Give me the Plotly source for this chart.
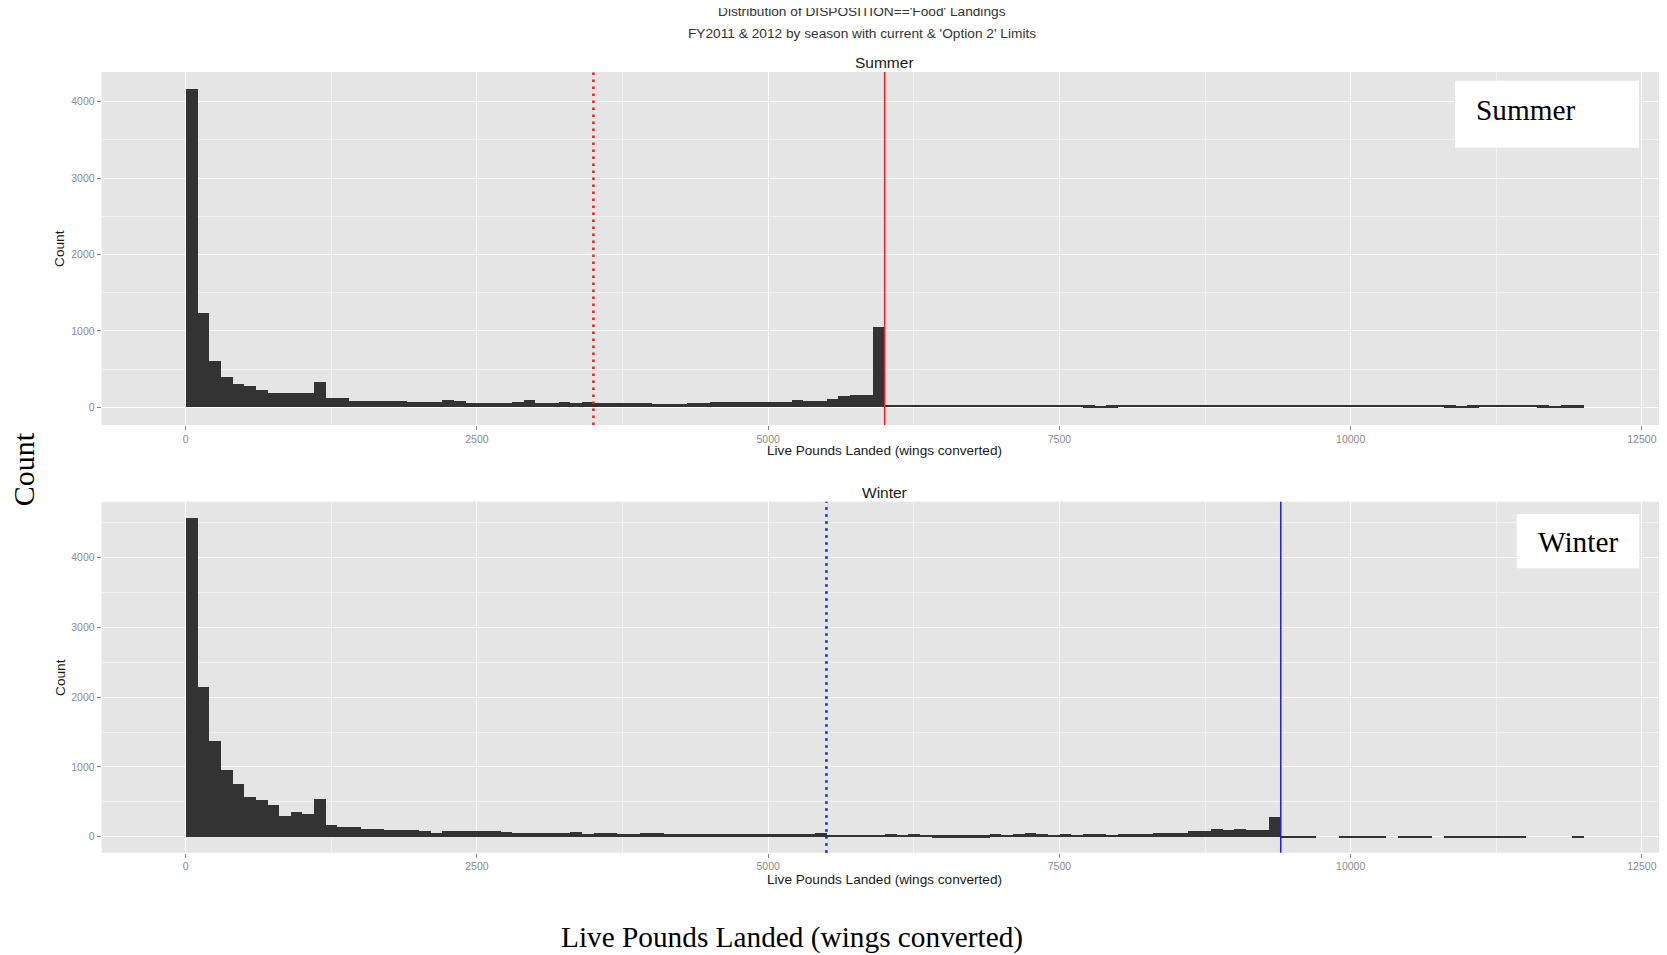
import plotly.graph_objects as go

# page is 1667x955; the browser puts the figure 8px in from the top-left corner
PAGE_W, PAGE_H = 1667, 955
OFF = 8
W, H = PAGE_W - OFF, PAGE_H - OFF

# ---------------- data ----------------
bin_width = 100  # lbs per histogram bin, bins start at 0

summer_counts = [
    4160, 1230, 600, 395, 300, 280, 230, 185, 185, 185,
    185, 335, 120, 118, 85, 85, 84, 82, 83, 68,
    66, 66, 90, 78, 60, 52, 52, 62, 66, 92,
    60, 52, 72, 55, 70, 52, 52, 52, 52, 50,
    42, 42, 43, 50, 62, 64, 65, 64, 65, 66,
    66, 70, 95, 78, 80, 105, 148, 162, 165, 1050,
    30, 28, 29, 28, 28, 27, 28, 29, 28, 28,
    28, 27, 28, 28, 29, 28, 28, 26, 6, 24,
    28, 28, 27, 28, 28, 28, 29, 28, 27, 28,
    28, 28, 28, 27, 28, 28, 28, 28, 28, 27,
    28, 28, 28, 28, 27, 28, 28, 28, 26, 6,
    26, 28, 28, 28, 28, 27, 26, 6, 26, 26,
]

winter_counts = [
    4576, 2150, 1375, 965, 765, 573, 526, 454, 297, 359,
    325, 550, 168, 143, 140, 120, 118, 97, 97, 105,
    86, 60, 80, 82, 80, 81, 80, 78, 58, 57,
    57, 57, 58, 67, 50, 57, 57, 48, 48, 62,
    62, 48, 45, 42, 40, 40, 38, 40, 38, 40,
    38, 50, 50, 40, 55, 35, 32, 30, 30, 32,
    50, 30, 50, 30, 28, 28, 26, 28, 26, 50,
    35, 50, 52, 48, 35, 50, 35, 38, 48, 36,
    50, 38, 40, 62, 60, 62, 80, 86, 120, 96,
    110, 96, 96, 290, 18, 18, 18, 0, 0, 18,
    18, 18, 18, 0, 18, 18, 18, 0, 18, 18,
    18, 18, 18, 18, 18, 0, 0, 0, 0, 18,
]

summer_limits = {"option2": 3500, "current": 6000}
winter_limits = {"option2": 5500, "current": 9400}

x_ticks = [0, 2500, 5000, 7500, 10000, 12500]
x_tick_labels = ["0", "2500", "5000", "7500", "10000", "12500"]
x_minor = [1250, 3750, 6250, 8750, 11250]
y_ticks = [0, 1000, 2000, 3000, 4000]
y_tick_labels = ["0", "1000", "2000", "3000", "4000"]
y_minor_top = [500, 1500, 2500, 3500]
y_minor_bottom = [500, 1500, 2500, 3500, 4500]

title_line1 = "Distribution of DISPOSITION=='Food' Landings"
title_line2 = "FY2011 & 2012 by season with current & 'Option 2' Limits"
x_title = "Live Pounds Landed (wings converted)"
y_title = "Count"
panel_names = ["Summer", "Winter"]

bin_centers = [i * bin_width + bin_width / 2 for i in range(len(summer_counts))]

# ---------------- helpers (page pixels -> paper fractions) ----------------
def fx(px):
    return (px - OFF) / W

def fy(py):
    return 1 - (py - OFF) / H

SANS = "Liberation Sans, Arial, Helvetica, sans-serif"
SERIF = "Liberation Serif, Times New Roman, serif"
BAR = "#333333"
BG = "#E5E5E5"
TICKC = "#8c8c8c"

fig = go.Figure()
fig.add_trace(go.Bar(x=bin_centers, y=summer_counts, width=bin_width,
                     marker=dict(color=BAR, line=dict(width=0)),
                     xaxis="x", yaxis="y", hoverinfo="x+y"))
fig.add_trace(go.Bar(x=bin_centers, y=winter_counts, width=bin_width,
                     marker=dict(color=BAR, line=dict(width=0)),
                     xaxis="x2", yaxis="y2", hoverinfo="x+y"))

x_common = dict(
    range=[-721, 12690], tickmode="array", tickvals=x_ticks, ticktext=x_tick_labels,
    ticks="outside", ticklen=4, tickwidth=1, tickcolor=TICKC,
    tickfont=dict(family=SANS, size=10.5, color=TICKC),
    showgrid=True, gridcolor="white", gridwidth=1.3,
    minor=dict(tickmode="array", tickvals=x_minor, showgrid=True,
               gridcolor="#F2F2F2", gridwidth=0.7, ticks=""),
    zeroline=False, showline=False, fixedrange=True,
    domain=[fx(101.7), fx(1664)],
)
y_common = dict(
    tickmode="array", tickvals=y_ticks, ticktext=y_tick_labels,
    ticks="outside", ticklen=4, tickwidth=1, tickcolor=TICKC,
    tickfont=dict(family=SANS, size=10.5, color=TICKC),
    showgrid=True, gridcolor="white", gridwidth=1.3,
    zeroline=False, showline=False, fixedrange=True,
)

fig.update_layout(
    width=W, height=H,
    margin=dict(l=0, r=0, t=0, b=0),
    paper_bgcolor="white", plot_bgcolor=BG,
    showlegend=False, bargap=0,
    xaxis=dict(anchor="y", **x_common),
    yaxis=dict(anchor="x", domain=[fy(425), fy(72)], range=[-232, 4389],
               minor=dict(tickmode="array", tickvals=y_minor_top, showgrid=True,
                          gridcolor="#F2F2F2", gridwidth=0.7, ticks=""),
               **y_common),
    xaxis2=dict(anchor="y2", **x_common),
    yaxis2=dict(anchor="x2", domain=[fy(852.7), fy(501.7)], range=[-229, 4799],
                minor=dict(tickmode="array", tickvals=y_minor_bottom, showgrid=True,
                           gridcolor="#F2F2F2", gridwidth=0.7, ticks=""),
                **y_common),
)

shapes = []
for xref, yref, lim, col in [("x", "y domain", summer_limits, "#FF1A1A"),
                             ("x2", "y2 domain", winter_limits, "#1A1AFF")]:
    shapes.append(dict(type="line", xref=xref, yref=yref,
                       x0=lim["option2"], x1=lim["option2"], y0=0, y1=1,
                       line=dict(color=col, width=2.6, dash="2.5px,4.5px"), layer="above"))
    shapes.append(dict(type="line", xref=xref, yref=yref,
                       x0=lim["current"], x1=lim["current"], y0=0, y1=1,
                       line=dict(color=col, width=1.5), layer="above"))
shapes.append(dict(type="rect", xref="paper", yref="paper",
                   x0=fx(1455), x1=fx(1639), y0=fy(147.7), y1=fy(80.7),
                   fillcolor="white", line=dict(width=0), layer="above"))
shapes.append(dict(type="rect", xref="paper", yref="paper",
                   x0=fx(1516.7), x1=fx(1639.3), y0=fy(568.3), y1=fy(514),
                   fillcolor="white", line=dict(width=0), layer="above"))
fig.update_layout(shapes=shapes)

def ann(text, px, py, size, family=SANS, color="#1a1a1a", angle=0):
    return dict(text=text, x=fx(px), y=fy(py), xref="paper", yref="paper",
                showarrow=False, xanchor="center", yanchor="middle",
                textangle=angle, font=dict(family=family, size=size, color=color))

annotations = [
    # first title line sits partly above the top edge, so its top is cut off
    ann(title_line1, 862, 11.5, 13.7, color="#333333"),
    ann(title_line2, 862, 33, 13.7, color="#333333"),
    ann(panel_names[0], 884, 63, 15.5),
    ann(panel_names[1], 884, 492, 15.5),
    ann(x_title, 884, 450.5, 13.6),
    ann(x_title, 884, 879.5, 13.6),
    ann(y_title, 60, 249, 13.7, angle=-90),
    ann(y_title, 60, 678, 13.7, angle=-90),
    ann(panel_names[0], 1525.5, 110, 29.3, family=SERIF, color="black"),
    ann(panel_names[1], 1578, 541.8, 29.3, family=SERIF, color="black"),
    ann(y_title, 23.3, 469, 30, family=SERIF, color="black", angle=-90),
    ann(x_title, 792, 937, 29.3, family=SERIF, color="black"),
]
fig.update_layout(annotations=annotations)

fig.write_html("out.html")
